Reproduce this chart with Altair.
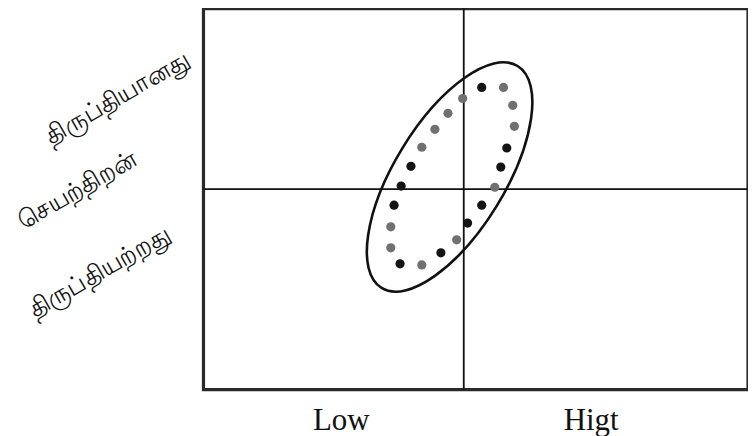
import altair as alt
import pandas as pd

# Dots around the ellipse (data units: x 0-100 Low->High, y 0-100)
dot_x = [51.1, 55.1, 56.8, 57.1, 55.7, 54.6, 53.5, 51.1, 48.5, 46.5, 43.6,
         40.1, 36.1, 34.4, 34.4, 35.0, 36.3, 38.1, 40.1, 42.5, 44.9, 47.6]
dot_y = [79.3, 79.3, 74.6, 69.1, 63.4, 58.4, 53.1, 48.4, 43.7, 39.3, 35.9,
         32.7, 33.0, 37.2, 42.7, 48.4, 53.4, 58.6, 63.6, 68.3, 72.5, 76.4]
dot_tone = ["b", "g", "g", "g", "b", "b", "g", "b", "b", "g", "b",
            "g", "b", "g", "g", "b", "b", "b", "g", "g", "g", "g"]

# quadrant dividers
mid_x = [47.8]
mid_y = [52.6]

# ellipse centre
ell_x = [45.2]
ell_y = [55.8]

# y-side labels (Tamil)
ylab_text = ["திருப்தியானது", "செயற்திறன்", "திருப்தியற்றது"]
ylab_x = [-15.8, -23.2, -19.0]
ylab_y = [76.7, 52.4, 30.9]

# x-side labels
xlab_text = ["Low", "Higt"]
xlab_x = [25.3, 71.2]
xlab_y = [-10.7, -10.7]

dots = pd.DataFrame({"x": dot_x, "y": dot_y, "tone": dot_tone})
vline = pd.DataFrame({"x": mid_x})
hline = pd.DataFrame({"y": mid_y})
ell = pd.DataFrame({"x": ell_x, "y": ell_y})
ylabs = pd.DataFrame({"t": ylab_text, "x": ylab_x, "y": ylab_y})
xlabs = pd.DataFrame({"t": xlab_text, "x": xlab_x, "y": xlab_y})

xs = alt.Scale(domain=[0, 100], nice=False, zero=False)
ys = alt.Scale(domain=[0, 100], nice=False, zero=False)
X = lambda f="x": alt.X(f"{f}:Q", scale=xs, axis=None)
Y = lambda f="y": alt.Y(f"{f}:Q", scale=ys, axis=None)

ELLIPSE = ("M 0 -1 C 0.2347 -1 0.425 -0.5523 0.425 0 "
           "C 0.425 0.5523 0.2347 1 0 1 "
           "C -0.2347 1 -0.425 0.5523 -0.425 0 "
           "C -0.425 -0.5523 -0.2347 -1 0 -1 Z")

v = alt.Chart(vline).mark_rule(color="#111", strokeWidth=1.8).encode(x=X())
h = alt.Chart(hline).mark_rule(color="#111", strokeWidth=1.8).encode(y=Y())

ellipse = alt.Chart(ell).mark_point(
    shape=ELLIPSE, size=68121, angle=31.5, filled=False,
    stroke="#111", strokeWidth=2.6, opacity=1
).encode(x=X(), y=Y())

pts = alt.Chart(dots).mark_circle(size=85, opacity=1).encode(
    x=X(), y=Y(),
    color=alt.Color("tone:N", scale=alt.Scale(domain=["b", "g"], range=["#141414", "#707070"]), legend=None),
)

ytext = alt.Chart(ylabs).mark_text(
    angle=330, fontSize=25, font="Noto Sans", color="#111", align="center", baseline="middle", clip=False
).encode(x=X(), y=Y(), text="t:N")

xtext = alt.Chart(xlabs).mark_text(
    fontSize=31, font="Liberation Serif", color="#111", align="center", baseline="alphabetic", clip=False
).encode(x=X(), y=Y(), text="t:N")

chart = alt.layer(v, h, ellipse, pts, ytext, xtext).properties(
    width=546, height=382,
    autosize=alt.AutoSizeParams(type="none"),
    padding={"left": 196, "top": 0, "right": 0, "bottom": 46},
).configure_view(stroke="#2a2a2a", strokeWidth=3.2)

chart.save("out.html", embed_options={"renderer": "svg", "actions": False})
